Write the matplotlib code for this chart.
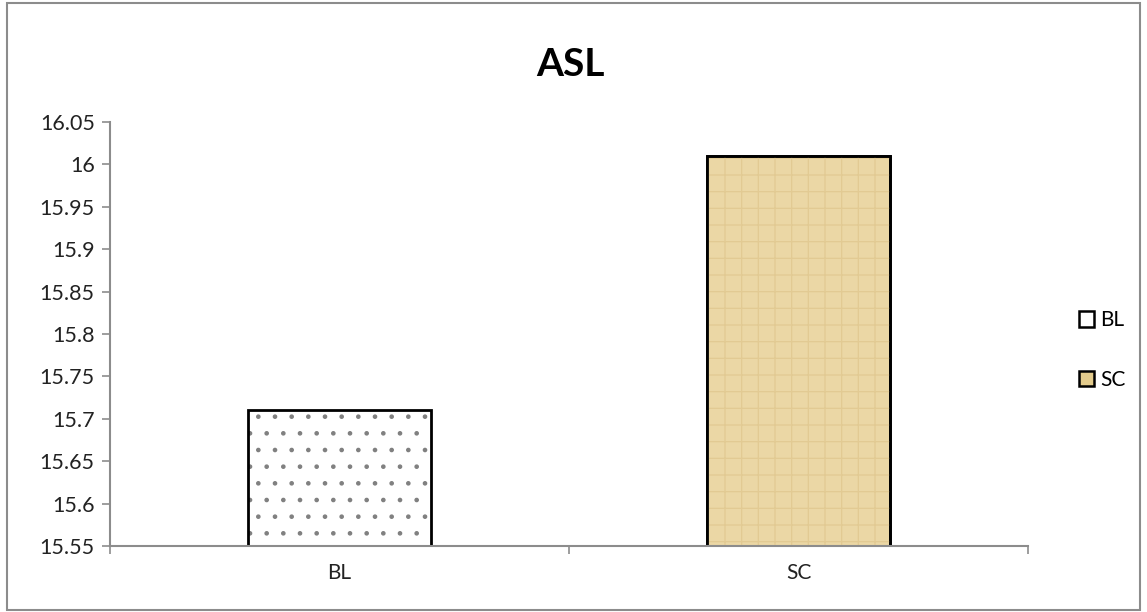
import matplotlib.pyplot as plt
from matplotlib.patches import Rectangle, Patch

plt.rcParams['font.family'] = ['Lato', 'DejaVu Sans']
plt.rcParams['hatch.linewidth'] = 0.9

categories = ['BL', 'SC']
values = [15.71, 16.01]
yticks = [15.55, 15.6, 15.65, 15.7, 15.75, 15.8, 15.85, 15.9, 15.95, 16.0, 16.05]
ytick_labels = ['15.55', '15.6', '15.65', '15.7', '15.75', '15.8', '15.85', '15.9', '15.95', '16', '16.05']

fig = plt.figure(figsize=(11.47, 6.12), dpi=100)
ax = fig.add_axes([0.0959, 0.1078, 0.8004, 0.6929])

# figure border
fig.patches.append(Rectangle((0.006, 0.003), 0.988, 0.992, transform=fig.transFigure,
                             fill=False, edgecolor='#8c8c8c', linewidth=1.5))

x = [0, 1]
bar_bl = ax.bar(x[0], values[0] - 15.55, bottom=15.55, width=0.40, facecolor='white',
                edgecolor='black', linewidth=2, hatch='.', label=categories[0])
bar_bl[0]._hatch_color = (0.5, 0.5, 0.5, 1)
bar_sc = ax.bar(x[1], values[1] - 15.55, bottom=15.55, width=0.40, facecolor='#ebd7a5',
                edgecolor='black', linewidth=2, label=categories[1])
# faint woven texture
tex = ax.bar(x[1], values[1] - 15.55, bottom=15.55, width=0.40, facecolor='none',
             edgecolor='#e2ca93', linewidth=0, hatch='+')
ax.bar(x[1], values[1] - 15.55, bottom=15.55, width=0.40, facecolor='none',
       edgecolor='black', linewidth=2)

ax.set_xlim(-0.5, 1.5)
ax.set_ylim(15.55, 16.05)
ax.set_yticks(yticks)
ax.set_yticklabels(ytick_labels)
ax.set_xticks(x)
ax.set_xticklabels(categories)
ax.set_xticks([-0.5, 0.5, 1.5], minor=True)
ax.tick_params(axis='x', which='major', length=0, labelsize=15, pad=12, colors='#222222')
ax.tick_params(axis='x', which='minor', length=6, color='#8c8c8c', width=1.2)
ax.tick_params(axis='y', length=6, width=1.2, labelsize=15.5, pad=5)
ax.tick_params(axis='y', colors='#8c8c8c', labelcolor='#222222')

for s in ['top', 'right']:
    ax.spines[s].set_visible(False)
for s in ['left', 'bottom']:
    ax.spines[s].set_color('#8c8c8c')
    ax.spines[s].set_linewidth(1.5)

fig.text(0.497, 0.895, 'ASL', ha='center', va='center', fontsize=28, fontweight='bold')

handles = [Patch(facecolor='white', edgecolor='black', linewidth=1.8),
           Patch(facecolor='#e3cb8c', edgecolor='black', linewidth=1.8)]
fig.legend(handles, categories, loc='center left', bbox_to_anchor=(0.924, 0.428),
           frameon=False, fontsize=15, handlelength=0.75, handleheight=0.75,
           handletextpad=0.3, labelspacing=1.9)

fig.savefig('out.png', dpi=100)
